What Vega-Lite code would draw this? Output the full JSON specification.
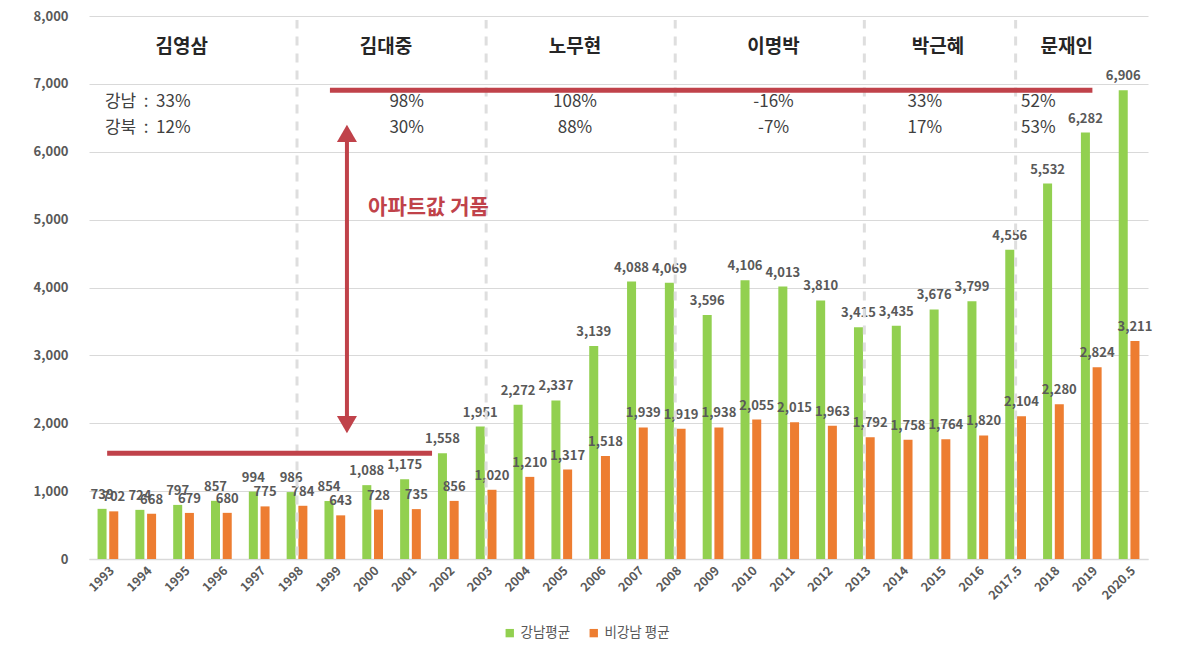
{
  "$schema": "https://vega.github.io/schema/vega-lite/v6.json",
  "description": "강남 / 비강남 아파트 평균 가격과 정권별 상승률",
  "autosize": {"type": "none"},
  "width": 1059,
  "height": 543,
  "padding": {"left": 89, "top": 16, "right": 52, "bottom": 91},
  "config": {
    "font": "Noto Sans CJK KR",
    "view": {"stroke": null}
  },
  "datasets": {
    "bars": [
      {"year": "1993", "group": "강남평균", "value": 739},
      {"year": "1993", "group": "비강남 평균", "value": 702},
      {"year": "1994", "group": "강남평균", "value": 724},
      {"year": "1994", "group": "비강남 평균", "value": 668},
      {"year": "1995", "group": "강남평균", "value": 797},
      {"year": "1995", "group": "비강남 평균", "value": 679},
      {"year": "1996", "group": "강남평균", "value": 857},
      {"year": "1996", "group": "비강남 평균", "value": 680},
      {"year": "1997", "group": "강남평균", "value": 994},
      {"year": "1997", "group": "비강남 평균", "value": 775},
      {"year": "1998", "group": "강남평균", "value": 986},
      {"year": "1998", "group": "비강남 평균", "value": 784},
      {"year": "1999", "group": "강남평균", "value": 854},
      {"year": "1999", "group": "비강남 평균", "value": 643},
      {"year": "2000", "group": "강남평균", "value": 1088},
      {"year": "2000", "group": "비강남 평균", "value": 728},
      {"year": "2001", "group": "강남평균", "value": 1175},
      {"year": "2001", "group": "비강남 평균", "value": 735},
      {"year": "2002", "group": "강남평균", "value": 1558},
      {"year": "2002", "group": "비강남 평균", "value": 856},
      {"year": "2003", "group": "강남평균", "value": 1951},
      {"year": "2003", "group": "비강남 평균", "value": 1020},
      {"year": "2004", "group": "강남평균", "value": 2272},
      {"year": "2004", "group": "비강남 평균", "value": 1210},
      {"year": "2005", "group": "강남평균", "value": 2337},
      {"year": "2005", "group": "비강남 평균", "value": 1317},
      {"year": "2006", "group": "강남평균", "value": 3139},
      {"year": "2006", "group": "비강남 평균", "value": 1518},
      {"year": "2007", "group": "강남평균", "value": 4088},
      {"year": "2007", "group": "비강남 평균", "value": 1939},
      {"year": "2008", "group": "강남평균", "value": 4069},
      {"year": "2008", "group": "비강남 평균", "value": 1919},
      {"year": "2009", "group": "강남평균", "value": 3596},
      {"year": "2009", "group": "비강남 평균", "value": 1938},
      {"year": "2010", "group": "강남평균", "value": 4106},
      {"year": "2010", "group": "비강남 평균", "value": 2055},
      {"year": "2011", "group": "강남평균", "value": 4013},
      {"year": "2011", "group": "비강남 평균", "value": 2015},
      {"year": "2012", "group": "강남평균", "value": 3810},
      {"year": "2012", "group": "비강남 평균", "value": 1963},
      {"year": "2013", "group": "강남평균", "value": 3415},
      {"year": "2013", "group": "비강남 평균", "value": 1792},
      {"year": "2014", "group": "강남평균", "value": 3435},
      {"year": "2014", "group": "비강남 평균", "value": 1758},
      {"year": "2015", "group": "강남평균", "value": 3676},
      {"year": "2015", "group": "비강남 평균", "value": 1764},
      {"year": "2016", "group": "강남평균", "value": 3799},
      {"year": "2016", "group": "비강남 평균", "value": 1820},
      {"year": "2017.5", "group": "강남평균", "value": 4556},
      {"year": "2017.5", "group": "비강남 평균", "value": 2104},
      {"year": "2018", "group": "강남평균", "value": 5532},
      {"year": "2018", "group": "비강남 평균", "value": 2280},
      {"year": "2019", "group": "강남평균", "value": 6282},
      {"year": "2019", "group": "비강남 평균", "value": 2824},
      {"year": "2020.5", "group": "강남평균", "value": 6906},
      {"year": "2020.5", "group": "비강남 평균", "value": 3211}
    ],
    "dividers": [
      {"year": "1998"},
      {"year": "2003"},
      {"year": "2008"},
      {"year": "2013"},
      {"year": "2017.5"}
    ],
    "names": [
      {"president": "김영삼", "year": "1995"},
      {"president": "김대중", "year": "2000"},
      {"president": "노무현", "year": "2005"},
      {"president": "이명박", "year": "2011"},
      {"president": "박근혜", "year": "2015"},
      {"president": "문재인", "year": "2018"}
    ],
    "changes": [
      {"year": "1993", "change": "강남\u00a0\u00a0:\u00a0\u00a033%\n강북\u00a0\u00a0:\u00a0\u00a012%"},
      {"year": "2001", "change": "98%\n30%"},
      {"year": "2005", "change": "108%\n88%"},
      {"year": "2011", "change": "-16%\n-7%"},
      {"year": "2015", "change": "33%\n17%"},
      {"year": "2018", "change": "52%\n53%"}
    ]
  },
  "layer": [
    {
      "data": {"name": "bars"},
      "mark": {"type": "bar"},
      "encoding": {
        "x": {
          "field": "year",
          "type": "nominal",
          "title": null,
          "scale": {
            "domain": ["1993", "1994", "1995", "1996", "1997", "1998", "1999", "2000", "2001", "2002", "2003", "2004", "2005", "2006", "2007", "2008", "2009", "2010", "2011", "2012", "2013", "2014", "2015", "2016", "2017.5", "2018", "2019", "2020.5"],
            "paddingInner": 0,
            "paddingOuter": 0
          },
          "axis": {
            "labelAngle": -45,
            "labelFontSize": 12.5,
            "labelFontWeight": "bold",
            "labelColor": "#595959",
            "labelPadding": 5,
            "ticks": false,
            "domainColor": "#d9d9d9",
            "domainWidth": 1.5,
            "grid": false
          }
        },
        "xOffset": {
          "field": "group",
          "type": "nominal",
          "scale": {"domain": ["강남평균", "비강남 평균"], "paddingInner": 0.23, "paddingOuter": 0.73}
        },
        "y": {
          "field": "value",
          "type": "quantitative",
          "title": null,
          "scale": {"domain": [0, 8000], "nice": false},
          "axis": {
            "values": [0, 1000, 2000, 3000, 4000, 5000, 6000, 7000, 8000],
            "labelExpr": "format(datum.value, ',')",
            "labelFontSize": 13,
            "labelFontWeight": "bold",
            "labelColor": "#595959",
            "labelPadding": 21,
            "ticks": false,
            "domain": false,
            "gridColor": "#d9d9d9",
            "gridWidth": 1
          }
        },
        "color": {
          "field": "group",
          "type": "nominal",
          "title": null,
          "scale": {"domain": ["강남평균", "비강남 평균"], "range": ["#92D050", "#ED7D31"]},
          "legend": {
            "orient": "none",
            "legendX": 414,
            "legendY": 610,
            "direction": "horizontal",
            "symbolType": "square",
            "symbolSize": 70,
            "symbolStrokeWidth": 0,
            "labelFontSize": 13.5,
            "labelColor": "#595959",
            "labelOffset": 4,
            "columnPadding": 16
          }
        }
      }
    },
    {
      "data": {"name": "bars"},
      "mark": {"type": "text", "baseline": "alphabetic", "dy": -10, "fontSize": 13, "fontWeight": "bold", "color": "#595959"},
      "encoding": {
        "x": {"field": "year", "type": "nominal"},
        "xOffset": {"field": "group", "type": "nominal"},
        "y": {"field": "value", "type": "quantitative"},
        "text": {"field": "value", "type": "quantitative", "format": ","}
      }
    },
    {
      "data": {"name": "dividers"},
      "mark": {"type": "rule", "color": "#dedede", "strokeWidth": 3, "strokeDash": [9, 8]},
      "encoding": {
        "x": {"field": "year", "type": "nominal"},
        "y": {"datum": 50},
        "y2": {"datum": 7940}
      }
    },
    {
      "data": {"values": [{"from": "1993", "to": "2002", "level": 1558}]},
      "mark": {"type": "rule", "color": "#C0424A", "strokeWidth": 5},
      "encoding": {
        "x": {"field": "from", "type": "nominal", "bandPosition": 0.48},
        "x2": {"field": "to", "bandPosition": 0.07},
        "y": {"field": "level", "type": "quantitative"}
      }
    },
    {
      "data": {"values": [{"from": "1999", "to": "2019", "level": 6906}]},
      "mark": {"type": "rule", "color": "#C0424A", "strokeWidth": 5},
      "encoding": {
        "x": {"field": "from", "type": "nominal", "bandPosition": 0.37},
        "x2": {"field": "to", "bandPosition": 0.53},
        "y": {"field": "level", "type": "quantitative"}
      }
    },
    {
      "data": {"values": [{"year": "1999", "lo": 2060, "hi": 6200}]},
      "mark": {"type": "rule", "color": "#C0424A", "strokeWidth": 4},
      "encoding": {
        "x": {"field": "year", "type": "nominal", "bandPosition": 0.82},
        "y": {"field": "lo", "type": "quantitative"},
        "y2": {"field": "hi"}
      }
    },
    {
      "data": {"values": [{"year": "1999", "at": 6270, "dir": "up"}, {"year": "1999", "at": 1981, "dir": "down"}]},
      "mark": {"type": "point", "filled": true, "opacity": 1, "size": 400, "color": "#C0424A"},
      "encoding": {
        "x": {"field": "year", "type": "nominal", "bandPosition": 0.82},
        "y": {"field": "at", "type": "quantitative"},
        "shape": {
          "field": "dir",
          "type": "nominal",
          "scale": {"domain": ["up", "down"], "range": ["triangle-up", "triangle-down"]},
          "legend": null
        }
      }
    },
    {
      "data": {"values": [{"year": "2000", "at": 5169, "label": "아파트값 거품"}]},
      "mark": {"type": "text", "align": "left", "baseline": "middle", "fontSize": 21, "fontWeight": "bold", "color": "#C0424A"},
      "encoding": {
        "x": {"field": "year", "type": "nominal", "bandPosition": 0.38},
        "y": {"field": "at", "type": "quantitative"},
        "text": {"field": "label"}
      }
    },
    {
      "data": {"name": "names"},
      "transform": [{"filter": {"field": "president", "oneOf": ["김대중", "노무현", "문재인"]}}],
      "mark": {"type": "text", "baseline": "middle", "fontSize": 19, "fontWeight": "bold", "color": "#262626"},
      "encoding": {
        "x": {"field": "year", "type": "nominal", "bandPosition": 0.85},
        "y": {"datum": 7540},
        "text": {"field": "president"}
      }
    },
    {
      "data": {"name": "names"},
      "transform": [{"filter": {"field": "president", "oneOf": ["김영삼", "박근혜"]}}],
      "mark": {"type": "text", "baseline": "middle", "fontSize": 19, "fontWeight": "bold", "color": "#262626"},
      "encoding": {
        "x": {"field": "year", "type": "nominal", "bandPosition": 0.45},
        "y": {"datum": 7540},
        "text": {"field": "president"}
      }
    },
    {
      "data": {"name": "names"},
      "transform": [{"filter": {"field": "president", "oneOf": ["이명박"]}}],
      "mark": {"type": "text", "baseline": "middle", "fontSize": 19, "fontWeight": "bold", "color": "#262626"},
      "encoding": {
        "x": {"field": "year", "type": "nominal", "bandPosition": 0.1},
        "y": {"datum": 7540},
        "text": {"field": "president"}
      }
    },
    {
      "data": {"name": "changes"},
      "transform": [{"filter": {"field": "year", "oneOf": ["1993"]}}],
      "mark": {"type": "text", "align": "left", "baseline": "middle", "lineBreak": "\n", "lineHeight": 26, "fontSize": 17, "color": "#404040"},
      "encoding": {
        "x": {"field": "year", "type": "nominal", "bandPosition": 0.42},
        "y": {"datum": 6730},
        "text": {"field": "change"}
      }
    },
    {
      "data": {"name": "changes"},
      "transform": [{"filter": {"field": "year", "oneOf": ["2001"]}}],
      "mark": {"type": "text", "baseline": "middle", "lineBreak": "\n", "lineHeight": 26, "fontSize": 17, "color": "#404040"},
      "encoding": {
        "x": {"field": "year", "type": "nominal", "bandPosition": 0.4},
        "y": {"datum": 6730},
        "text": {"field": "change"}
      }
    },
    {
      "data": {"name": "changes"},
      "transform": [{"filter": {"field": "year", "oneOf": ["2005"]}}],
      "mark": {"type": "text", "baseline": "middle", "lineBreak": "\n", "lineHeight": 26, "fontSize": 17, "color": "#404040"},
      "encoding": {
        "x": {"field": "year", "type": "nominal", "bandPosition": 0.85},
        "y": {"datum": 6730},
        "text": {"field": "change"}
      }
    },
    {
      "data": {"name": "changes"},
      "transform": [{"filter": {"field": "year", "oneOf": ["2011", "2015", "2018"]}}],
      "mark": {"type": "text", "baseline": "middle", "lineBreak": "\n", "lineHeight": 26, "fontSize": 17, "color": "#404040"},
      "encoding": {
        "x": {"field": "year", "type": "nominal", "bandPosition": 0.1},
        "y": {"datum": 6730},
        "text": {"field": "change"}
      }
    }
  ]
}
